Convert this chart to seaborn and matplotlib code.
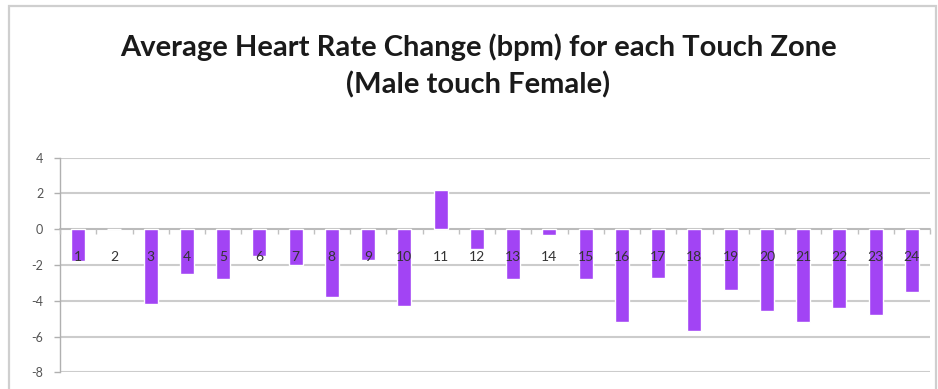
import matplotlib
matplotlib.use("Agg")
import matplotlib.pyplot as plt
import matplotlib.patches as mpatches
import seaborn as sns
import pandas as pd
import numpy as np

zones = [str(i) for i in range(1, 25)]
hr_change = [-1.8, 0.0, -4.2, -2.5, -2.8, -1.5, -2.0, -3.8, -1.7, -4.3, 2.2, -1.1,
             -2.8, -0.3, -2.8, -5.2, -2.7, -5.7, -3.4, -4.6, -5.2, -4.4, -4.8, -3.5]
yticks = [-8, -6, -4, -2, 0, 2, 4]
title_line1 = "Average Heart Rate Change (bpm) for each Touch Zone"
title_line2 = "(Male touch Female)"

sns.set_theme(style="white")
plt.rcParams['font.family'] = ['Lato', 'DejaVu Sans']

W, H = 938, 389
fig = plt.figure(figsize=(W / 100, H / 100), dpi=100)
fig.patch.set_facecolor("white")

# outer chart frame
frame = mpatches.Rectangle((9 / W, -0.05), (936 - 9) / W, (H - 6) / H + 0.05,
                           transform=fig.transFigure, fill=False,
                           edgecolor="#cfcfcf", linewidth=1.6, zorder=0)
fig.add_artist(frame)

left, right = 60, 930
top, bottom = 157.7, 372.3
ax = fig.add_axes([left / W, (H - bottom) / H, (right - left) / W, (bottom - top) / H])

df = pd.DataFrame({"zone": zones, "change": hr_change})
sns.barplot(data=df, x="zone", y="change", color="#A244F4", saturation=1,
            width=0.385, ax=ax, zorder=3)

ax.set_ylim(-8, 4)
ax.set_xlim(-0.5, len(zones) - 0.5)
ax.set_yticks(yticks)
ax.set_yticklabels([str(v) for v in yticks])
ax.yaxis.grid(True, color="#cccccc", linewidth=1.5, zorder=0)
ax.set_axisbelow(True)
ax.xaxis.set_zorder(5)
ax.set_xlabel("")
ax.set_ylabel("")

for s in ["top", "right"]:
    ax.spines[s].set_visible(False)
ax.spines["left"].set_color("#b0b0b0")
ax.spines["left"].set_linewidth(1.0)
ax.spines["bottom"].set_position(("data", 0))
ax.spines["bottom"].set_color("#b8b8b8")
ax.spines["bottom"].set_linewidth(1.2)
ax.spines["bottom"].set_zorder(2)

ax.tick_params(axis="y", which="major", left=True, length=4, width=1,
               color="#b0b0b0", labelsize=9, labelcolor="#555555", pad=8)
ax.set_xticks(range(len(zones)))
ax.set_xticklabels(zones)
ax.set_xticks(np.arange(-0.5, len(zones), 1), minor=True)
ax.tick_params(axis="x", which="major", bottom=True, length=0, labelsize=10,
               labelcolor="#333333", pad=16)
ax.tick_params(axis="x", which="minor", bottom=True, length=3.5, width=1,
               color="#c0c0c0", direction="out")

fig.text(478 / W, 1 - 47 / H, title_line1, ha="center", va="center",
         fontsize=21, fontweight="bold", color="#1a1a1a")
fig.text(478 / W, 1 - 85 / H, title_line2, ha="center", va="center",
         fontsize=21, fontweight="bold", color="#1a1a1a")

fig.savefig("out.png", dpi=100, facecolor="white")
